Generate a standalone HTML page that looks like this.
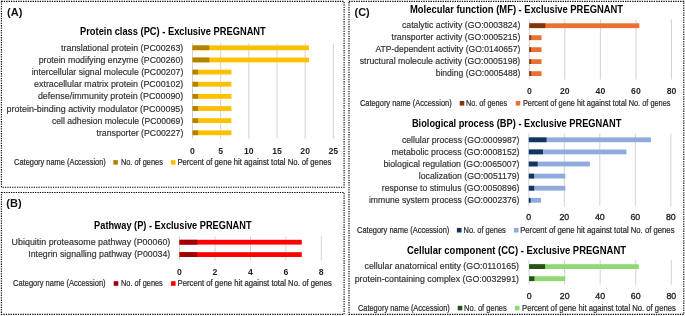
<!DOCTYPE html>
<html><head><meta charset="utf-8"><style>
html,body{margin:0;padding:0;background:#fff;}
svg{display:block;font-family:"Liberation Sans", sans-serif;}
.b{filter:blur(0.35px);}
</style></head><body>
<svg width="685" height="316" viewBox="0 0 685 316">
<rect width="685" height="316" fill="#fff"/>
<g class="b">
<path d="M1.4 1.4H344.1V187.2H1.4Z" fill="none" stroke="#000" stroke-width="1.1" stroke-dasharray="1.3 1.1"/>
<path d="M1.4 192.5H344.1V314.4H1.4Z" fill="none" stroke="#000" stroke-width="1.1" stroke-dasharray="1.3 1.1"/>
<path d="M349.0 1.4H683.8V314.4H349.0Z" fill="none" stroke="#000" stroke-width="1.1" stroke-dasharray="1.3 1.1"/>
<line x1="192.50" y1="43.30" x2="192.50" y2="138.80" stroke="#d3d3d3" stroke-width="1.0"/>
<line x1="220.66" y1="43.30" x2="220.66" y2="138.80" stroke="#d3d3d3" stroke-width="1.0"/>
<line x1="248.82" y1="43.30" x2="248.82" y2="138.80" stroke="#d3d3d3" stroke-width="1.0"/>
<line x1="276.98" y1="43.30" x2="276.98" y2="138.80" stroke="#d3d3d3" stroke-width="1.0"/>
<line x1="305.14" y1="43.30" x2="305.14" y2="138.80" stroke="#d3d3d3" stroke-width="1.0"/>
<line x1="333.30" y1="43.30" x2="333.30" y2="138.80" stroke="#d3d3d3" stroke-width="1.0"/>
<rect x="192.50" y="45.40" width="116.53" height="4.80" fill="#FFC000"/>
<rect x="192.50" y="45.40" width="16.90" height="4.80" fill="#B08300"/>
<text x="61.10" y="50.60" font-size="9.5" fill="#303030" stroke="#303030" stroke-width="0.18" textLength="122.20" lengthAdjust="spacingAndGlyphs">translational protein (PC00263)</text>
<rect x="192.50" y="57.54" width="116.53" height="4.80" fill="#FFC000"/>
<rect x="192.50" y="57.54" width="16.90" height="4.80" fill="#B08300"/>
<text x="38.70" y="62.82" font-size="9.5" fill="#303030" stroke="#303030" stroke-width="0.18" textLength="144.60" lengthAdjust="spacingAndGlyphs">protein modifying enzyme (PC00260)</text>
<rect x="192.50" y="69.68" width="38.86" height="4.80" fill="#FFC000"/>
<rect x="192.50" y="69.68" width="5.63" height="4.80" fill="#B08300"/>
<text x="31.70" y="75.04" font-size="9.5" fill="#303030" stroke="#303030" stroke-width="0.18" textLength="151.60" lengthAdjust="spacingAndGlyphs">intercellular signal molecule (PC00207)</text>
<rect x="192.50" y="81.82" width="38.86" height="4.80" fill="#FFC000"/>
<rect x="192.50" y="81.82" width="5.63" height="4.80" fill="#B08300"/>
<text x="34.10" y="87.26" font-size="9.5" fill="#303030" stroke="#303030" stroke-width="0.18" textLength="149.20" lengthAdjust="spacingAndGlyphs">extracellular matrix protein (PC00102)</text>
<rect x="192.50" y="93.96" width="38.86" height="4.80" fill="#FFC000"/>
<rect x="192.50" y="93.96" width="5.63" height="4.80" fill="#B08300"/>
<text x="37.90" y="99.48" font-size="9.5" fill="#303030" stroke="#303030" stroke-width="0.18" textLength="145.40" lengthAdjust="spacingAndGlyphs">defense/immunity protein (PC00090)</text>
<rect x="192.50" y="106.10" width="38.86" height="4.80" fill="#FFC000"/>
<rect x="192.50" y="106.10" width="5.63" height="4.80" fill="#B08300"/>
<text x="6.60" y="111.70" font-size="9.5" fill="#303030" stroke="#303030" stroke-width="0.18" textLength="176.70" lengthAdjust="spacingAndGlyphs">protein-binding activity modulator (PC00095)</text>
<rect x="192.50" y="118.24" width="38.86" height="4.80" fill="#FFC000"/>
<rect x="192.50" y="118.24" width="5.63" height="4.80" fill="#B08300"/>
<text x="51.90" y="123.92" font-size="9.5" fill="#303030" stroke="#303030" stroke-width="0.18" textLength="131.40" lengthAdjust="spacingAndGlyphs">cell adhesion molecule (PC00069)</text>
<rect x="192.50" y="130.38" width="38.86" height="4.80" fill="#FFC000"/>
<rect x="192.50" y="130.38" width="5.63" height="4.80" fill="#B08300"/>
<text x="96.50" y="136.14" font-size="9.5" fill="#303030" stroke="#303030" stroke-width="0.18" textLength="86.80" lengthAdjust="spacingAndGlyphs">transporter (PC00227)</text>
<text x="192.50" y="153.70" font-size="8.7" fill="#262626" font-weight="bold" text-anchor="middle">0</text>
<text x="220.66" y="153.70" font-size="8.7" fill="#262626" font-weight="bold" text-anchor="middle">5</text>
<text x="248.82" y="153.70" font-size="8.7" fill="#262626" font-weight="bold" text-anchor="middle">10</text>
<text x="276.98" y="153.70" font-size="8.7" fill="#262626" font-weight="bold" text-anchor="middle">15</text>
<text x="305.14" y="153.70" font-size="8.7" fill="#262626" font-weight="bold" text-anchor="middle">20</text>
<text x="333.30" y="153.70" font-size="8.7" fill="#262626" font-weight="bold" text-anchor="middle">25</text>
<text x="80.00" y="35.20" font-size="10.3" fill="#000" font-weight="bold" textLength="185.80" lengthAdjust="spacingAndGlyphs">Protein class (PC) - Exclusive PREGNANT</text>
<text x="14.10" y="164.90" font-size="8.2" fill="#2a2a2a" stroke="#2a2a2a" stroke-width="0.2" textLength="91.70" lengthAdjust="spacingAndGlyphs">Category name (Accession)</text>
<rect x="113.30" y="160.10" width="4.60" height="4.60" fill="#B08300"/>
<text x="120.90" y="164.90" font-size="8.2" fill="#2a2a2a" stroke="#2a2a2a" stroke-width="0.2" textLength="42.00" lengthAdjust="spacingAndGlyphs">No. of genes</text>
<rect x="170.90" y="160.10" width="4.60" height="4.60" fill="#FFC000"/>
<text x="177.40" y="164.90" font-size="8.2" fill="#2a2a2a" stroke="#2a2a2a" stroke-width="0.2" textLength="153.90" lengthAdjust="spacingAndGlyphs">Percent of gene hit against total No. of genes</text>
<line x1="179.50" y1="236.30" x2="179.50" y2="260.60" stroke="#d3d3d3" stroke-width="1.0"/>
<line x1="214.94" y1="236.30" x2="214.94" y2="260.60" stroke="#d3d3d3" stroke-width="1.0"/>
<line x1="250.38" y1="236.30" x2="250.38" y2="260.60" stroke="#d3d3d3" stroke-width="1.0"/>
<line x1="285.82" y1="236.30" x2="285.82" y2="260.60" stroke="#d3d3d3" stroke-width="1.0"/>
<line x1="321.26" y1="236.30" x2="321.26" y2="260.60" stroke="#d3d3d3" stroke-width="1.0"/>
<rect x="179.50" y="239.80" width="122.27" height="4.80" fill="#FF0000"/>
<rect x="179.50" y="239.80" width="17.72" height="4.80" fill="#A00000"/>
<text x="11.60" y="245.00" font-size="9.5" fill="#303030" stroke="#303030" stroke-width="0.18" textLength="158.70" lengthAdjust="spacingAndGlyphs">Ubiquitin proteasome pathway (P00060)</text>
<rect x="179.50" y="252.20" width="122.27" height="4.80" fill="#FF0000"/>
<rect x="179.50" y="252.20" width="17.72" height="4.80" fill="#A00000"/>
<text x="28.20" y="257.40" font-size="9.5" fill="#303030" stroke="#303030" stroke-width="0.18" textLength="142.10" lengthAdjust="spacingAndGlyphs">Integrin signalling pathway (P00034)</text>
<text x="179.50" y="275.40" font-size="8.7" fill="#262626" font-weight="bold" text-anchor="middle">0</text>
<text x="214.94" y="275.40" font-size="8.7" fill="#262626" font-weight="bold" text-anchor="middle">2</text>
<text x="250.38" y="275.40" font-size="8.7" fill="#262626" font-weight="bold" text-anchor="middle">4</text>
<text x="285.82" y="275.40" font-size="8.7" fill="#262626" font-weight="bold" text-anchor="middle">6</text>
<text x="321.26" y="275.40" font-size="8.7" fill="#262626" font-weight="bold" text-anchor="middle">8</text>
<text x="94.10" y="229.30" font-size="10.3" fill="#000" font-weight="bold" textLength="157.50" lengthAdjust="spacingAndGlyphs">Pathway (P) - Exclusive PREGNANT</text>
<text x="13.10" y="286.00" font-size="8.2" fill="#2a2a2a" stroke="#2a2a2a" stroke-width="0.2" textLength="92.50" lengthAdjust="spacingAndGlyphs">Category name (Accession)</text>
<rect x="113.70" y="281.20" width="4.60" height="4.60" fill="#A00000"/>
<text x="121.00" y="286.00" font-size="8.2" fill="#2a2a2a" stroke="#2a2a2a" stroke-width="0.2" textLength="41.80" lengthAdjust="spacingAndGlyphs">No. of genes</text>
<rect x="171.00" y="281.20" width="4.60" height="4.60" fill="#FF0000"/>
<text x="177.60" y="286.00" font-size="8.2" fill="#2a2a2a" stroke="#2a2a2a" stroke-width="0.2" textLength="154.20" lengthAdjust="spacingAndGlyphs">Percent of gene hit against total No. of genes</text>
<line x1="529.30" y1="19.30" x2="529.30" y2="79.50" stroke="#d3d3d3" stroke-width="1.0"/>
<line x1="564.85" y1="19.30" x2="564.85" y2="79.50" stroke="#d3d3d3" stroke-width="1.0"/>
<line x1="600.40" y1="19.30" x2="600.40" y2="79.50" stroke="#d3d3d3" stroke-width="1.0"/>
<line x1="635.95" y1="19.30" x2="635.95" y2="79.50" stroke="#d3d3d3" stroke-width="1.0"/>
<line x1="671.50" y1="19.30" x2="671.50" y2="79.50" stroke="#d3d3d3" stroke-width="1.0"/>
<rect x="529.30" y="23.30" width="110.03" height="4.80" fill="#E97132"/>
<rect x="529.30" y="23.30" width="16.00" height="4.80" fill="#80350E"/>
<text x="402.00" y="28.00" font-size="9.5" fill="#303030" stroke="#303030" stroke-width="0.18" textLength="118.30" lengthAdjust="spacingAndGlyphs">catalytic activity (GO:0003824)</text>
<rect x="529.30" y="35.28" width="12.26" height="4.80" fill="#E97132"/>
<rect x="529.30" y="35.28" width="1.78" height="4.80" fill="#80350E"/>
<text x="391.50" y="39.98" font-size="9.5" fill="#303030" stroke="#303030" stroke-width="0.18" textLength="128.80" lengthAdjust="spacingAndGlyphs">transporter activity (GO:0005215)</text>
<rect x="529.30" y="47.26" width="12.26" height="4.80" fill="#E97132"/>
<rect x="529.30" y="47.26" width="1.78" height="4.80" fill="#80350E"/>
<text x="375.50" y="51.96" font-size="9.5" fill="#303030" stroke="#303030" stroke-width="0.18" textLength="144.80" lengthAdjust="spacingAndGlyphs">ATP-dependent activity (GO:0140657)</text>
<rect x="529.30" y="59.24" width="12.26" height="4.80" fill="#E97132"/>
<rect x="529.30" y="59.24" width="1.78" height="4.80" fill="#80350E"/>
<text x="359.70" y="63.94" font-size="9.5" fill="#303030" stroke="#303030" stroke-width="0.18" textLength="160.60" lengthAdjust="spacingAndGlyphs">structural molecule activity (GO:0005198)</text>
<rect x="529.30" y="71.22" width="12.26" height="4.80" fill="#E97132"/>
<rect x="529.30" y="71.22" width="1.78" height="4.80" fill="#80350E"/>
<text x="435.70" y="75.92" font-size="9.5" fill="#303030" stroke="#303030" stroke-width="0.18" textLength="84.60" lengthAdjust="spacingAndGlyphs">binding (GO:0005488)</text>
<text x="529.30" y="94.00" font-size="8.7" fill="#262626" font-weight="bold" text-anchor="middle">0</text>
<text x="564.85" y="94.00" font-size="8.7" fill="#262626" font-weight="bold" text-anchor="middle">20</text>
<text x="600.40" y="94.00" font-size="8.7" fill="#262626" font-weight="bold" text-anchor="middle">40</text>
<text x="635.95" y="94.00" font-size="8.7" fill="#262626" font-weight="bold" text-anchor="middle">60</text>
<text x="671.50" y="94.00" font-size="8.7" fill="#262626" font-weight="bold" text-anchor="middle">80</text>
<text x="410.00" y="13.00" font-size="10.3" fill="#000" font-weight="bold" textLength="213.10" lengthAdjust="spacingAndGlyphs">Molecular function (MF) - Exclusive PREGNANT</text>
<text x="359.90" y="105.80" font-size="8.2" fill="#2a2a2a" stroke="#2a2a2a" stroke-width="0.2" textLength="91.80" lengthAdjust="spacingAndGlyphs">Category name (Accession)</text>
<rect x="459.70" y="101.00" width="4.60" height="4.60" fill="#80350E"/>
<text x="466.10" y="105.80" font-size="8.2" fill="#2a2a2a" stroke="#2a2a2a" stroke-width="0.2" textLength="41.00" lengthAdjust="spacingAndGlyphs">No. of genes</text>
<rect x="515.70" y="101.00" width="4.60" height="4.60" fill="#E97132"/>
<text x="522.90" y="105.80" font-size="8.2" fill="#2a2a2a" stroke="#2a2a2a" stroke-width="0.2" textLength="147.60" lengthAdjust="spacingAndGlyphs">Percent of gene hit against total No. of genes</text>
<line x1="528.80" y1="133.60" x2="528.80" y2="206.20" stroke="#d3d3d3" stroke-width="1.0"/>
<line x1="564.31" y1="133.60" x2="564.31" y2="206.20" stroke="#d3d3d3" stroke-width="1.0"/>
<line x1="599.82" y1="133.60" x2="599.82" y2="206.20" stroke="#d3d3d3" stroke-width="1.0"/>
<line x1="635.33" y1="133.60" x2="635.33" y2="206.20" stroke="#d3d3d3" stroke-width="1.0"/>
<line x1="670.84" y1="133.60" x2="670.84" y2="206.20" stroke="#d3d3d3" stroke-width="1.0"/>
<rect x="528.80" y="137.40" width="122.15" height="4.80" fill="#8FAADC"/>
<rect x="528.80" y="137.40" width="17.76" height="4.80" fill="#113660"/>
<text x="402.00" y="142.60" font-size="9.5" fill="#303030" stroke="#303030" stroke-width="0.18" textLength="117.50" lengthAdjust="spacingAndGlyphs">cellular process (GO:0009987)</text>
<rect x="528.80" y="149.50" width="97.65" height="4.80" fill="#8FAADC"/>
<rect x="528.80" y="149.50" width="14.20" height="4.80" fill="#113660"/>
<text x="391.50" y="154.70" font-size="9.5" fill="#303030" stroke="#303030" stroke-width="0.18" textLength="128.00" lengthAdjust="spacingAndGlyphs">metabolic process (GO:0008152)</text>
<rect x="528.80" y="161.60" width="61.08" height="4.80" fill="#8FAADC"/>
<rect x="528.80" y="161.60" width="8.88" height="4.80" fill="#113660"/>
<text x="383.40" y="166.80" font-size="9.5" fill="#303030" stroke="#303030" stroke-width="0.18" textLength="136.10" lengthAdjust="spacingAndGlyphs">biological regulation (GO:0065007)</text>
<rect x="528.80" y="173.70" width="36.58" height="4.80" fill="#8FAADC"/>
<rect x="528.80" y="173.70" width="5.33" height="4.80" fill="#113660"/>
<text x="418.80" y="178.90" font-size="9.5" fill="#303030" stroke="#303030" stroke-width="0.18" textLength="100.70" lengthAdjust="spacingAndGlyphs">localization (GO:0051179)</text>
<rect x="528.80" y="185.80" width="36.58" height="4.80" fill="#8FAADC"/>
<rect x="528.80" y="185.80" width="5.33" height="4.80" fill="#113660"/>
<text x="381.80" y="191.00" font-size="9.5" fill="#303030" stroke="#303030" stroke-width="0.18" textLength="137.70" lengthAdjust="spacingAndGlyphs">response to stimulus (GO:0050896)</text>
<rect x="528.80" y="197.90" width="12.25" height="4.80" fill="#8FAADC"/>
<rect x="528.80" y="197.90" width="1.78" height="4.80" fill="#113660"/>
<text x="368.90" y="203.10" font-size="9.5" fill="#303030" stroke="#303030" stroke-width="0.18" textLength="150.60" lengthAdjust="spacingAndGlyphs">immune system process (GO:0002376)</text>
<text x="528.80" y="220.40" font-size="8.8" fill="#262626" stroke="#262626" stroke-width="0.35" text-anchor="middle">0</text>
<text x="564.31" y="220.40" font-size="8.8" fill="#262626" stroke="#262626" stroke-width="0.35" text-anchor="middle">20</text>
<text x="599.82" y="220.40" font-size="8.8" fill="#262626" stroke="#262626" stroke-width="0.35" text-anchor="middle">40</text>
<text x="635.33" y="220.40" font-size="8.8" fill="#262626" stroke="#262626" stroke-width="0.35" text-anchor="middle">60</text>
<text x="670.84" y="220.40" font-size="8.8" fill="#262626" stroke="#262626" stroke-width="0.35" text-anchor="middle">80</text>
<text x="411.90" y="127.00" font-size="10.3" fill="#000" font-weight="bold" textLength="209.40" lengthAdjust="spacingAndGlyphs">Biological process (BP) - Exclusive PREGNANT</text>
<text x="357.00" y="232.70" font-size="8.2" fill="#2a2a2a" stroke="#2a2a2a" stroke-width="0.2" textLength="92.30" lengthAdjust="spacingAndGlyphs">Category name (Accession)</text>
<rect x="456.90" y="227.90" width="4.60" height="4.60" fill="#113660"/>
<text x="463.60" y="232.70" font-size="8.2" fill="#2a2a2a" stroke="#2a2a2a" stroke-width="0.2" textLength="42.20" lengthAdjust="spacingAndGlyphs">No. of genes</text>
<rect x="513.90" y="227.90" width="4.60" height="4.60" fill="#8FAADC"/>
<text x="520.20" y="232.70" font-size="8.2" fill="#2a2a2a" stroke="#2a2a2a" stroke-width="0.2" textLength="154.30" lengthAdjust="spacingAndGlyphs">Percent of gene hit against total No. of genes</text>
<line x1="529.10" y1="260.00" x2="529.10" y2="284.80" stroke="#d3d3d3" stroke-width="1.0"/>
<line x1="564.65" y1="260.00" x2="564.65" y2="284.80" stroke="#d3d3d3" stroke-width="1.0"/>
<line x1="600.20" y1="260.00" x2="600.20" y2="284.80" stroke="#d3d3d3" stroke-width="1.0"/>
<line x1="635.75" y1="260.00" x2="635.75" y2="284.80" stroke="#d3d3d3" stroke-width="1.0"/>
<line x1="671.30" y1="260.00" x2="671.30" y2="284.80" stroke="#d3d3d3" stroke-width="1.0"/>
<rect x="529.10" y="264.20" width="109.67" height="4.80" fill="#8ED973"/>
<rect x="529.10" y="264.20" width="16.00" height="4.80" fill="#275317"/>
<text x="364.50" y="269.40" font-size="9.5" fill="#303030" stroke="#303030" stroke-width="0.18" textLength="154.50" lengthAdjust="spacingAndGlyphs">cellular anatomical entity (GO:0110165)</text>
<rect x="529.10" y="276.30" width="36.08" height="4.80" fill="#8ED973"/>
<rect x="529.10" y="276.30" width="5.33" height="4.80" fill="#275317"/>
<text x="354.70" y="281.50" font-size="9.5" fill="#303030" stroke="#303030" stroke-width="0.18" textLength="164.30" lengthAdjust="spacingAndGlyphs">protein-containing complex (GO:0032991)</text>
<text x="529.10" y="299.10" font-size="8.8" fill="#262626" stroke="#262626" stroke-width="0.35" text-anchor="middle">0</text>
<text x="564.65" y="299.10" font-size="8.8" fill="#262626" stroke="#262626" stroke-width="0.35" text-anchor="middle">20</text>
<text x="600.20" y="299.10" font-size="8.8" fill="#262626" stroke="#262626" stroke-width="0.35" text-anchor="middle">40</text>
<text x="635.75" y="299.10" font-size="8.8" fill="#262626" stroke="#262626" stroke-width="0.35" text-anchor="middle">60</text>
<text x="671.30" y="299.10" font-size="8.8" fill="#262626" stroke="#262626" stroke-width="0.35" text-anchor="middle">80</text>
<text x="406.90" y="253.70" font-size="10.3" fill="#000" font-weight="bold" textLength="219.20" lengthAdjust="spacingAndGlyphs">Cellular component (CC) - Exclusive PREGNANT</text>
<text x="357.90" y="310.60" font-size="8.2" fill="#2a2a2a" stroke="#2a2a2a" stroke-width="0.2" textLength="91.90" lengthAdjust="spacingAndGlyphs">Category name (Accession)</text>
<rect x="457.70" y="305.80" width="4.60" height="4.60" fill="#275317"/>
<text x="464.10" y="310.60" font-size="8.2" fill="#2a2a2a" stroke="#2a2a2a" stroke-width="0.2" textLength="42.70" lengthAdjust="spacingAndGlyphs">No. of genes</text>
<rect x="514.90" y="305.80" width="4.60" height="4.60" fill="#8ED973"/>
<text x="522.00" y="310.60" font-size="8.2" fill="#2a2a2a" stroke="#2a2a2a" stroke-width="0.2" textLength="153.80" lengthAdjust="spacingAndGlyphs">Percent of gene hit against total No. of genes</text>
<text x="7.10" y="15.70" font-size="11" fill="#111" font-weight="bold">(A)</text>
<text x="6.30" y="207.00" font-size="11" fill="#111" font-weight="bold">(B)</text>
<text x="354.50" y="16.00" font-size="11" fill="#111" font-weight="bold">(C)</text>
</g>
</svg>
</body></html>
